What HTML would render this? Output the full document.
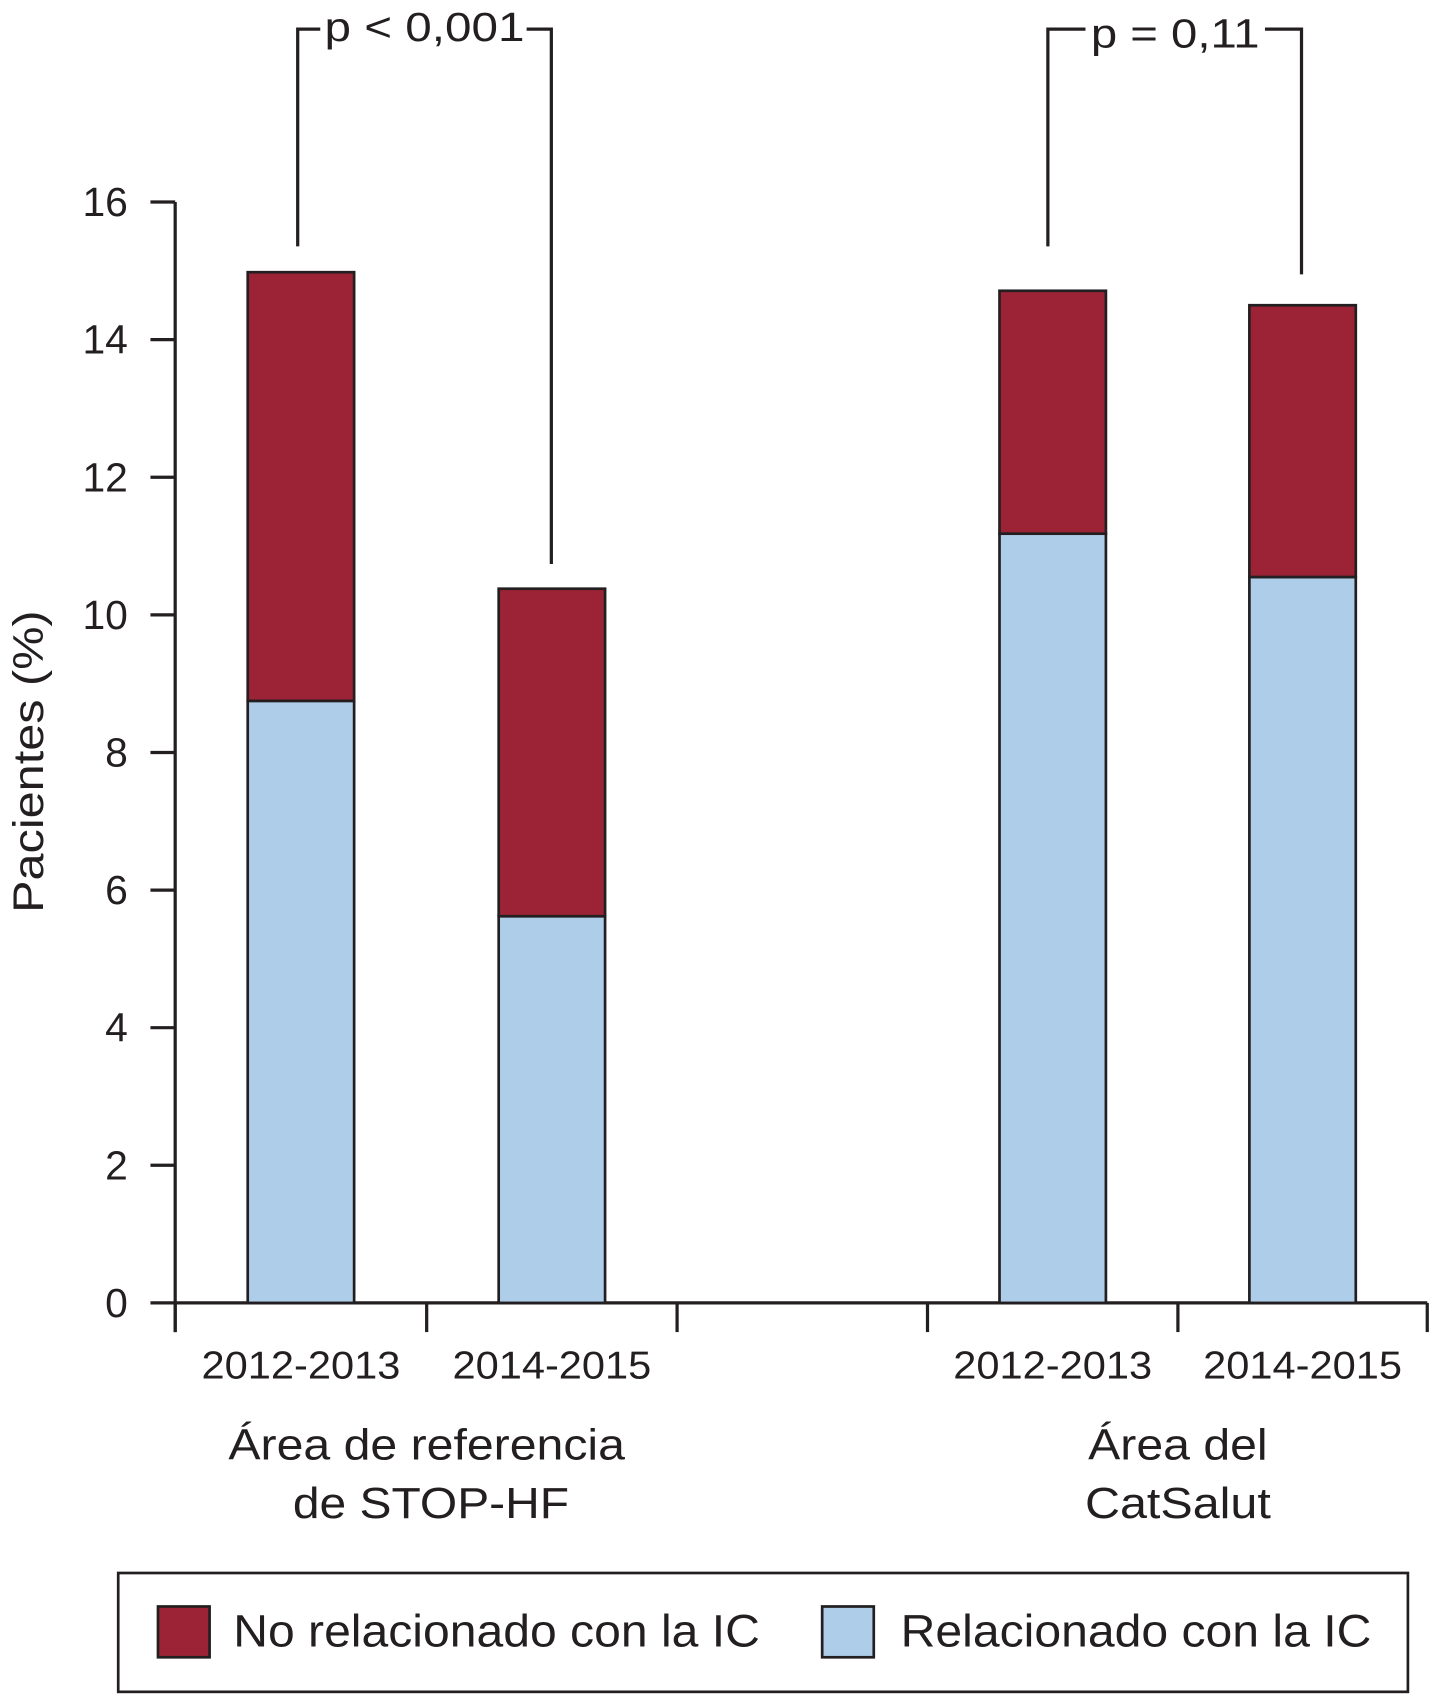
<!DOCTYPE html>
<html><head><meta charset="utf-8"><style>
html,body{margin:0;padding:0;background:#fff;}
svg{display:block;}
text{font-family:"Liberation Sans",Arial,sans-serif;fill:#231f20;}
</style></head><body>
<svg id="chart" width="1438" height="1694" viewBox="0 0 1338 1568" preserveAspectRatio="none" xmlns="http://www.w3.org/2000/svg">
<g id="axes"></g>
<g id="bars"></g>
<g>
<polyline points="277,228 277,27 298,27" fill="none" stroke="#231f20" stroke-width="3"/>
<polyline points="490,27 513,27 513,522" fill="none" stroke="#231f20" stroke-width="3"/>
<text x="302" y="38" font-size="38" textLength="186" lengthAdjust="spacingAndGlyphs">p &lt; 0,001</text>
</g>
<g>
<polyline points="975,228 975,27 1010,27" fill="none" stroke="#231f20" stroke-width="3"/>
<polyline points="1177,27 1211,27 1211,254" fill="none" stroke="#231f20" stroke-width="3"/>
<text x="1015" y="44" font-size="38" textLength="157" lengthAdjust="spacingAndGlyphs">p = 0,11</text>
</g>
<text transform="translate(40,705) rotate(-90)" font-size="40" text-anchor="middle" textLength="280" lengthAdjust="spacingAndGlyphs">Pacientes (%)</text>
<text x="397" y="1351" font-size="40" text-anchor="middle" textLength="369" lengthAdjust="spacingAndGlyphs">Área de referencia</text>
<text x="401" y="1405" font-size="40" text-anchor="middle" textLength="257" lengthAdjust="spacingAndGlyphs">de STOP-HF</text>
<text x="1096" y="1351" font-size="40" text-anchor="middle" textLength="167" lengthAdjust="spacingAndGlyphs">Área del</text>
<text x="1096" y="1405" font-size="40" text-anchor="middle" textLength="173" lengthAdjust="spacingAndGlyphs">CatSalut</text>
<g>
<rect x="110" y="1456" width="1200" height="110" fill="#fff" stroke="#231f20" stroke-width="2.5"/>
<rect x="147" y="1487" width="48" height="47" fill="#9b2335" stroke="#231f20" stroke-width="2.5"/>
<text x="217" y="1524" font-size="42" textLength="490" lengthAdjust="spacingAndGlyphs">No relacionado con la IC</text>
<rect x="765" y="1487" width="48" height="47" fill="#aecde9" stroke="#231f20" stroke-width="2.5"/>
<text x="838" y="1524" font-size="42" textLength="438" lengthAdjust="spacingAndGlyphs">Relacionado con la IC</text>
</g>
</svg>
<script>
const categories = ["2012-2013","2014-2015","2012-2013","2014-2015"];
const relacionado = [8.75, 5.62, 11.18, 10.55];
const noRelacionado = [6.23, 4.76, 3.53, 3.95];
const yTicks = [0,2,4,6,8,10,12,14,16];
const NS="http://www.w3.org/2000/svg";
const y0=1206, y16=187;
function yScale(v){return y0-(y0-y16)*v/16;}
const slotEdges=[163,397,630,863,1096,1328];
const slotIdx=[0,1,3,4];
function xCenter(i){const k=slotIdx[i];return (slotEdges[k]+slotEdges[k+1])/2;}
const bw=99;
function mk(tag,attrs,parent){const e=document.createElementNS(NS,tag);for(const k in attrs)e.setAttribute(k,attrs[k]);parent.appendChild(e);return e;}
const axes=document.getElementById('axes');
const bars=document.getElementById('bars');
let l=mk('line',{x1:163,y1:y16,x2:163,y2:y0+27,stroke:'#231f20','stroke-width':3},axes);


l=mk('line',{x1:163,y1:y0,x2:1328,y2:y0,stroke:'#231f20','stroke-width':3},axes);


yTicks.forEach(v=>{
  const y=yScale(v);
  const t=mk('line',{x1:140,y1:y,x2:163,y2:y,stroke:'#231f20','stroke-width':3},axes);
  
  
  const tx=mk('text',{x:119,y:y+13,'font-size':38,'text-anchor':'end'},axes);
  tx.textContent=v;
  
  
});
slotEdges.forEach(x=>{
  const t=mk('line',{x1:x,y1:y0,x2:x,y2:y0+27,stroke:'#231f20','stroke-width':3},axes);
  
  
});
categories.forEach((c,i)=>{
  const xc=xCenter(i);
  const tx=mk('text',{x:xc,y:1276,'font-size':36,'text-anchor':'middle',textLength:185,lengthAdjust:'spacingAndGlyphs'},axes);
  tx.textContent=c;
  
  
  const yb=yScale(relacionado[i]);
  const yt=yScale(relacionado[i]+noRelacionado[i]);
  const b=mk('rect',{x:xc-bw/2,y:yb,width:bw,height:y0-yb,fill:'#aecde9',stroke:'#231f20','stroke-width':2.5},bars);
  
  
  const r=mk('rect',{x:xc-bw/2,y:yt,width:bw,height:yb-yt,fill:'#9b2335',stroke:'#231f20','stroke-width':2.5},bars);
  
  
});
</script>
</body></html>
